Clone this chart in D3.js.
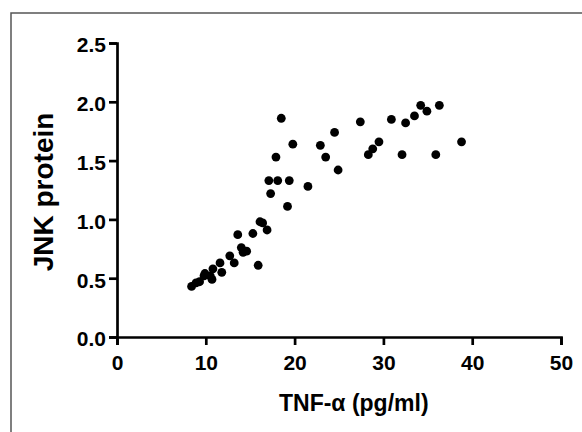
<!DOCTYPE html>
<html>
<head>
<meta charset="utf-8">
<script src="https://cdn.jsdelivr.net/npm/d3@7"></script>
<style>
  body { margin: 0; background: #fff; }
  text { font-family: "Liberation Sans", Arial, sans-serif; font-weight: bold; fill: #000; }
</style>
</head>
<body>
<div id="chart"></div>
<script>
// TNF-alpha (pg/ml) vs JNK protein
var tnf = [8.4, 8.9, 9.3, 9.8, 9.9, 10.7, 10.8, 10.5, 11.8, 11.6,
           12.7, 13.2, 13.6, 14.0, 14.6, 14.2, 15.3, 15.9, 16.1, 16.4,
           16.9, 17.1, 17.3, 18.1, 17.9, 18.5, 19.4, 19.2, 19.8, 21.5,
           22.9, 23.5, 24.5, 24.9, 27.4, 28.3, 28.8, 29.5, 30.9, 32.1,
           32.5, 33.5, 34.2, 34.9, 35.9, 36.3, 38.8];
var jnk = [0.43, 0.46, 0.47, 0.52, 0.54, 0.49, 0.58, 0.52, 0.55, 0.63,
           0.69, 0.63, 0.87, 0.76, 0.73, 0.72, 0.88, 0.61, 0.98, 0.97,
           0.91, 1.33, 1.22, 1.33, 1.53, 1.86, 1.33, 1.11, 1.64, 1.28,
           1.63, 1.53, 1.74, 1.42, 1.83, 1.55, 1.60, 1.66, 1.85, 1.55,
           1.82, 1.88, 1.97, 1.92, 1.55, 1.97, 1.66];
var xTicks = [0, 10, 20, 30, 40, 50];
var yTicks = [0, 0.5, 1.0, 1.5, 2.0, 2.5];

var width = 582, height = 432;
var margin = {left: 117, right: 21, top: 43, bottom: 95};

var svg = d3.select("#chart").append("svg")
  .attr("width", width)
  .attr("height", height);

// outer frame (runs off the right and bottom edges)
svg.append("rect")
  .attr("x", 11).attr("y", 13)
  .attr("width", 600).attr("height", 500)
  .attr("fill", "none")
  .attr("stroke", "#555")
  .attr("stroke-width", 1.5);

var x = d3.scaleLinear().domain([0, 50]).range([margin.left, width - margin.right]);
var y = d3.scaleLinear().domain([0, 2.5]).range([height - margin.bottom, margin.top]);

var xAxis = svg.append("g")
  .attr("transform", "translate(0," + y(0) + ")")
  .call(d3.axisBottom(x).tickValues(xTicks).tickSize(8).tickPadding(10).tickFormat(d3.format("d")));

var yAxis = svg.append("g")
  .attr("transform", "translate(" + x(0) + ",0)")
  .call(d3.axisLeft(y).tickValues(yTicks).tickSize(8).tickPadding(3).tickFormat(d3.format(".1f")));

[xAxis, yAxis].forEach(function(a) {
  a.select(".domain").attr("stroke", "#000").attr("stroke-width", 2.7);
  a.selectAll(".tick line").attr("stroke", "#000").attr("stroke-width", 2.7);
  a.selectAll(".tick text").style("font-size", "21px").attr("fill", "#000");
});
yAxis.selectAll(".tick text").attr("dy", "0.42em");

svg.append("text")
  .attr("x", 279)
  .attr("y", 411)
  .attr("text-anchor", "start")
  .style("font-size", "23px")
  .text("TNF-α (pg/ml)");

svg.append("text")
  .attr("transform", "translate(53," + 192 + ") rotate(-90)")
  .attr("text-anchor", "middle")
  .style("font-size", "28px")
  .text("JNK protein");

svg.append("g")
  .selectAll("circle")
  .data(tnf)
  .enter()
  .append("circle")
    .attr("cx", function(d) { return x(d); })
    .attr("cy", function(d, i) { return y(jnk[i]); })
    .attr("r", 4.4)
    .attr("fill", "#000");
</script>
</body>
</html>
